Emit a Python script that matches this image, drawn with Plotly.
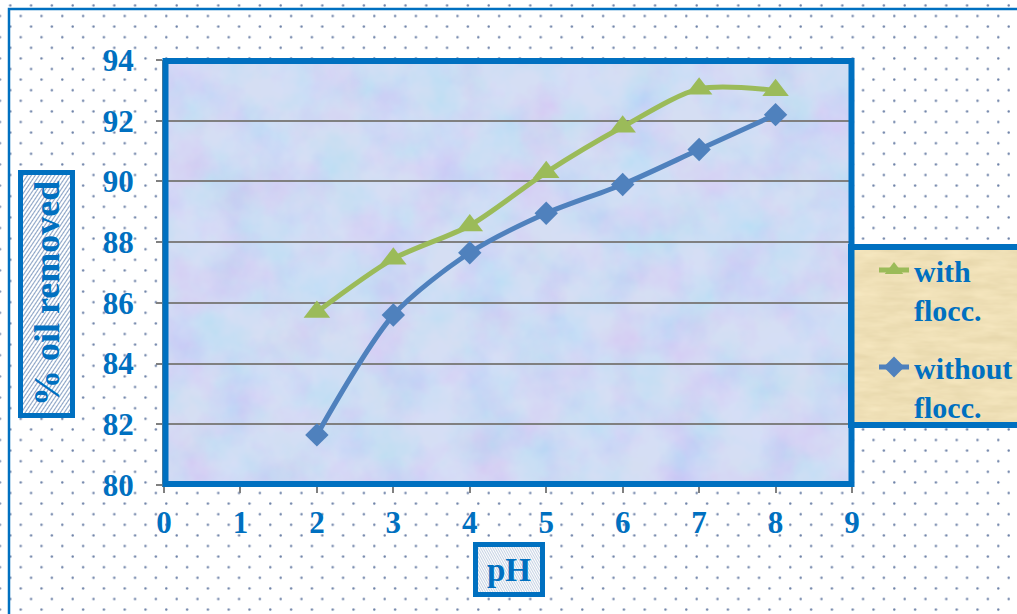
import base64
import plotly.graph_objects as go

# Data
ph = [2, 3, 4, 5, 6, 7, 8]
with_flocc = [85.7, 87.45, 88.55, 90.3, 91.8, 93.05, 93.0]
without_flocc = [81.65, 85.6, 87.65, 88.95, 89.9, 91.05, 92.2]
x_ticks = list(range(0, 10))
y_ticks = list(range(80, 95, 2))

BLUE = "#0070C0"
GREEN_LINE = "#9BBB59"
BLUE_LINE = "#4F81BD"
GRID = "#808080"
FONT = "Liberation Serif"

W, H = 1017, 614
ML, MR, MT, MB = 164, 165, 60, 129
PW, PH = W - ML - MR, H - MT - MB


def px(x):
    return (x - ML) / PW


def py(y):
    return (H - MB - y) / PH


def svg_uri(svg):
    return "data:image/svg+xml;base64," + base64.b64encode(svg.encode()).decode()


dots_svg = f"""<svg xmlns='http://www.w3.org/2000/svg' width='{W}' height='{H}'>
<defs><pattern id='d' patternUnits='userSpaceOnUse' x='15.5' y='10.7' width='20.8' height='21.2'>
<circle cx='5.2' cy='5.3' r='1.2' fill='#6B7FA6'/><circle cx='15.6' cy='15.9' r='1.2' fill='#6B7FA6'/>
</pattern></defs><rect width='100%' height='100%' fill='white'/><rect width='100%' height='100%' fill='url(#d)'/></svg>"""

plot_svg = f"""<svg xmlns='http://www.w3.org/2000/svg' width='{PW}' height='{PH}'>
<defs><filter id='n' x='0' y='0' width='100%' height='100%'>
<feTurbulence type='fractalNoise' baseFrequency='0.02' numOctaves='4' seed='7'/>
<feColorMatrix type='matrix' values='1.1 0 0 0 0.25  0 1.0 0 0 0.4  0 0 0.2 0 0.82  0 0 0 0 1'/>
</filter></defs>
<rect width='100%' height='100%' fill='#C4D0F4'/>
<rect width='100%' height='100%' filter='url(#n)' opacity='0.3'/></svg>"""

hatch_svg = """<svg xmlns='http://www.w3.org/2000/svg' width='300' height='300'>
<defs><pattern id='h' patternUnits='userSpaceOnUse' width='5' height='10' patternTransform='rotate(-45)'>
<line x1='0.8' y1='0' x2='0.8' y2='10' stroke='#4A6FA5' stroke-width='1.1'/></pattern></defs>
<rect width='100%' height='100%' fill='white'/><rect width='100%' height='100%' fill='url(#h)'/></svg>"""

papyrus_svg = """<svg xmlns='http://www.w3.org/2000/svg' width='200' height='200'>
<defs><filter id='p' x='0' y='0' width='100%' height='100%'>
<feTurbulence type='fractalNoise' baseFrequency='0.03 0.12' numOctaves='3' seed='3'/>
<feColorMatrix type='matrix' values='0.3 0 0 0 0.76  0.3 0 0 0 0.66  0.3 0 0 0 0.42  0 0 0 0 1'/>
</filter></defs>
<rect width='100%' height='100%' fill='#E8D5A2'/>
<rect width='100%' height='100%' filter='url(#p)' opacity='0.55'/></svg>"""


def image(src, x0, y0, x1, y1, layer):
    return dict(source=svg_uri(src), xref="paper", yref="paper",
                x=px(x0), y=py(y0), sizex=(x1 - x0) / PW, sizey=(y1 - y0) / PH,
                xanchor="left", yanchor="top", sizing="stretch", layer=layer)


def rect(x0, y0, x1, y1, width, color=BLUE):
    return dict(type="rect", xref="paper", yref="paper",
                x0=px(x0), y0=py(y1), x1=px(x1), y1=py(y0),
                line=dict(color=color, width=width), fillcolor="rgba(0,0,0,0)",
                layer="above")


fig = go.Figure()
fig.add_trace(go.Scatter(
    x=ph, y=with_flocc, name="with<br>flocc.", mode="lines+markers",
    line=dict(color=GREEN_LINE, width=5, shape="spline", smoothing=0.8),
    marker=dict(symbol="triangle-up", size=23, color=GREEN_LINE),
    legendgroup="a"))
fig.add_trace(go.Scatter(
    x=ph, y=without_flocc, name="without<br>flocc.", mode="lines+markers",
    line=dict(color=BLUE_LINE, width=5, shape="spline", smoothing=0.8),
    marker=dict(symbol="diamond", size=18, color=BLUE_LINE),
    legendgroup="b"))

tickfont = dict(family=FONT, size=31, color=BLUE, weight="bold")

fig.update_xaxes(range=[0, 9], tickvals=x_ticks, showgrid=False, zeroline=False,
                 showline=True, linecolor=GRID, linewidth=2,
                 ticks="outside", ticklen=6, tickwidth=2, tickcolor=GRID,
                 tickfont=tickfont, ticklabelstandoff=3)
fig.update_yaxes(range=[80, 94], tickvals=y_ticks, showgrid=True, gridcolor=GRID,
                 gridwidth=2, zeroline=False, showline=True, linecolor=GRID,
                 linewidth=2, ticks="outside", ticklen=6, tickwidth=2,
                 tickcolor=GRID, tickfont=tickfont, ticklabelstandoff=16)

images = [
    image(dots_svg, 0, 0, W, H, "below"),
    image(plot_svg, ML, MT, ML + PW, MT + PH, "below"),
    image(hatch_svg, 18, 170, 75, 418, "above"),
    image(hatch_svg, 473, 542, 545, 597, "above"),
    image(papyrus_svg, 848, 244, 1040, 428, "above"),
]

shapes = [
    rect(9, 9, 1040, 640, 2.5),
    rect(165.5, 61, 851.5, 484, 6),
    rect(20.5, 172.5, 72.5, 415.5, 5),
    rect(475.5, 544.5, 542.5, 594.5, 5),
    rect(851, 247, 1045, 425, 6),
]

annotations = [
    dict(text="% oil removed", xref="paper", yref="paper", x=px(47), y=py(294),
         textangle=-90, showarrow=False,
         font=dict(family=FONT, size=36, color=BLUE, weight="bold"),
         xanchor="center", yanchor="middle"),
    dict(text="pH", xref="paper", yref="paper", x=px(509), y=py(570),
         showarrow=False,
         font=dict(family=FONT, size=33, color=BLUE, weight="bold"),
         xanchor="center", yanchor="middle"),
]

fig.update_layout(
    width=W, height=H,
    margin=dict(l=ML, r=MR, t=MT, b=MB, pad=0, autoexpand=False),
    paper_bgcolor="white", plot_bgcolor="rgba(0,0,0,0)",
    images=images, shapes=shapes, annotations=annotations,
    showlegend=True,
    legend=dict(x=px(874), y=py(244), xanchor="left", yanchor="top",
                bgcolor="rgba(0,0,0,0)", borderwidth=0,
                font=dict(family=FONT, size=30, color=BLUE, weight="bold"),
                valign="top", traceorder="grouped", tracegroupgap=16,
                itemwidth=30),
)

fig.write_html("out.html")
